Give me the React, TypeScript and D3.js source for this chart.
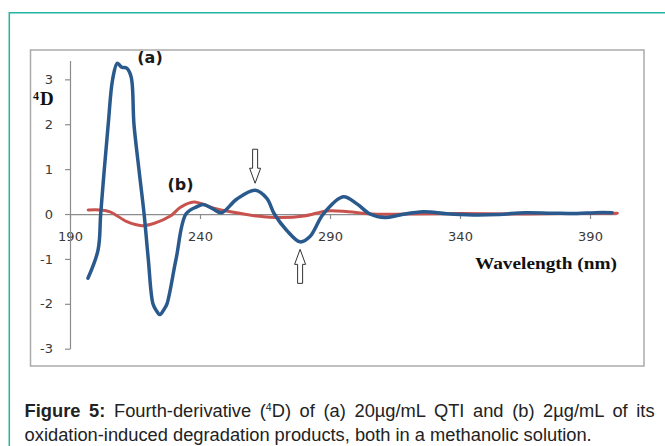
import * as d3 from "d3";
import { useRef, useEffect } from "react";

// (a) QTI 20 µg/mL, fourth derivative
const wavelengthA = [
    196.9, 200.8, 201.8, 203.2, 204.7, 206.4, 208.2, 209.9, 211.8, 213.5,
    214.6, 216.5, 218.5, 220.1, 221.9, 223.2, 224.6, 226.2, 227.3, 230.8,
    234.6, 238.7, 241.2, 244.8, 248.3, 254.1, 261.2, 265.7, 268.6, 273.3,
    278.5, 282.3, 287.4, 295.1, 300.5, 305.4, 311.2, 316.9, 325.9, 334.9,
    345, 355, 365, 375, 385, 392, 398.5,
];
const derivA = [
    -1.43, -0.8, 0, 1, 2, 3, 3.36, 3.27, 3.25, 3.06,
    2, 1, 0, -1, -2, -2.15, -2.24, -2.12, -2, -1,
    0, 0.16, 0.21, 0.12, 0.03, 0.33, 0.53, 0.35, 0, -0.36,
    -0.62, -0.5, 0, 0.385, 0.22, 0, -0.08, -0.02, 0.05, 0.005,
    -0.02, -0.01, 0.03, 0.02, 0.01, 0.03, 0.03,
];

// (b) oxidation-induced degradation products 2 µg/mL
const wavelengthB = [
    197, 201.6, 205.4, 211.9, 217.7, 222.2, 228.6, 232.5, 237.6, 245.3,
    251.8, 262, 271, 280, 289, 297, 306, 320, 340, 360, 380, 400.5,
];
const derivB = [
    0.09, 0.09, 0.05, -0.17, -0.26, -0.21, -0.045, 0.15, 0.27, 0.13,
    0.05, -0.045, -0.08, -0.045, 0.07, 0.05, 0, 0, 0.01, 0, 0.01, 0.02,
];

const xTicks = [190, 240, 290, 340, 390];
const yTicks = [-3, -2, -1, 0, 1, 2, 3];

// arrows mark the peak and trough of (a)
const arrowDown = { wl: 261.2, v: 0.53 };
const arrowUp = { wl: 278.5, v: -0.62 };

const arrowPath =
    "M-2.5,-34L2.5,-34L2.5,-15L5.5,-15L0,0L-5.5,-15L-2.5,-15Z";

const captionFont = "'Liberation Sans'";
const line1Width = 630;

export default function App() {
    const gx = useRef<SVGGElement>(null);
    const gy = useRef<SVGGElement>(null);
    const cap1 = useRef<SVGTextElement>(null);

    const x = d3.scaleLinear([190, 400], [70, 616]);
    const y = d3.scaleLinear([-3, 3.42], [348.7, 60.5]);

    const line = d3
        .line<[number, number]>()
        .x((d) => x(d[0]))
        .y((d) => y(d[1]))
        .curve(d3.curveCatmullRom.alpha(0.5));

    const seriesA = wavelengthA.map((w, i) => [w, derivA[i]] as [number, number]);
    const seriesB = wavelengthB.map((w, i) => [w, derivB[i]] as [number, number]);

    useEffect(() => {
        if (gx.current) {
            const g = d3.select(gx.current);
            g.call(
                d3
                    .axisBottom(x)
                    .tickValues(xTicks)
                    .tickFormat((d) => String(d))
                    .tickSize(5)
                    .tickSizeOuter(0)
                    .tickPadding(13)
            );
            g.selectAll("path,line").attr("stroke", "#8c8c8c").attr("stroke-width", 1.2);
            g.selectAll("text")
                .attr("fill", "#3a3a3a")
                .style("font", "13px 'DejaVu Sans'");
        }
        if (gy.current) {
            const g = d3.select(gy.current);
            g.call(
                d3
                    .axisLeft(y)
                    .tickValues(yTicks)
                    .tickFormat((d) => String(d))
                    .tickSize(5)
                    .tickSizeOuter(0)
                    .tickPadding(12)
            );
            g.selectAll("path,line").attr("stroke", "#8c8c8c").attr("stroke-width", 1.2);
            g.selectAll("text")
                .attr("fill", "#3a3a3a")
                .style("font", "13px 'DejaVu Sans'");
        }
        // justify first caption line by widening the word gaps
        if (cap1.current) {
            const el = cap1.current;
            el.style.wordSpacing = "0px";
            const natural = el.getComputedTextLength();
            const gaps = 12;
            el.style.wordSpacing = `${Math.max(0, (line1Width - natural) / gaps)}px`;
        }
    }, [x, y]);

    return (
        <svg
            width={665}
            height={446}
            style={{ position: "absolute", left: 0, top: 0, background: "#fff" }}
        >
            {/* teal frame */}
            <path d="M9.3,446V12.7H665" fill="none" stroke="#22B5A2" strokeWidth={1.5} />
            {/* chart area border */}
            <rect x={30.5} y={50} width={613.5} height={316} fill="#fff" stroke="#ababab" strokeWidth={1.5} />

            <g ref={gx} transform={`translate(0,${y(0)})`} />
            <g ref={gy} transform={`translate(${x(190)},0)`} />

            <path d={line(seriesB) || ""} fill="none" stroke="#C8524E" strokeWidth={3} strokeLinejoin="round" strokeLinecap="round" />
            <path d={line(seriesA) || ""} fill="none" stroke="#2A5A8D" strokeWidth={3.5} strokeLinejoin="round" strokeLinecap="round" />

            <path
                d={arrowPath}
                transform={`translate(${x(arrowDown.wl)},${y(arrowDown.v) - 7})`}
                fill="#fff"
                stroke="#333"
                strokeWidth={1}
            />
            <path
                d={arrowPath}
                transform={`translate(${x(arrowUp.wl)},${y(arrowUp.v) + 7.5}) scale(1,-1)`}
                fill="#fff"
                stroke="#333"
                strokeWidth={1}
            />

            <text x={150} y={63} textAnchor="middle" fontFamily="'DejaVu Sans'" fontWeight="bold" fontSize={16} fill="#1a1a1a">(a)</text>
            <text x={180.5} y={190} textAnchor="middle" fontFamily="'DejaVu Sans'" fontWeight="bold" fontSize={16} fill="#1a1a1a">(b)</text>

            <text x={33} y={100} fontFamily="'Liberation Serif'" fontWeight="bold" fontSize={12} fill="#111">4</text>
            <text x={40} y={105} fontFamily="'Liberation Serif'" fontWeight="bold" fontSize={19} fill="#111">D</text>

            <text x={475} y={268.5} fontFamily="'Liberation Serif'" fontWeight="bold" fontSize={17} fill="#111" textLength={142} lengthAdjust="spacingAndGlyphs">
                Wavelength (nm)
            </text>

            <g fontFamily={captionFont} fontSize={18.3} fill="#222">
                <text ref={cap1} x={24.6} y={417}>
                    <tspan fontWeight="bold">Figure 5:</tspan>
                    <tspan> Fourth-derivative (</tspan>
                    <tspan fontSize={10.5} dy={-6.5}>4</tspan>
                    <tspan dy={6.5}>D) of (a) 20µg/mL QTI and (b) 2µg/mL of its</tspan>
                </text>
                <text x={24.6} y={441}>
                    oxidation-induced degradation products, both in a methanolic solution.
                </text>
            </g>
        </svg>
    );
}
